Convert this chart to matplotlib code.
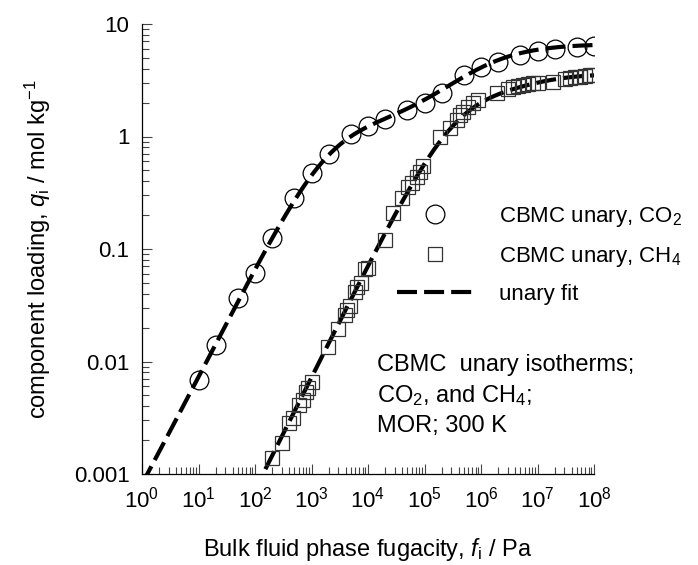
import numpy as np
import matplotlib
matplotlib.use('Agg')
import matplotlib.pyplot as plt
from matplotlib.ticker import LogLocator, NullFormatter, FixedLocator, FixedFormatter

plt.rcParams['font.family'] = ['Liberation Sans', 'DejaVu Sans']
plt.rcParams['mathtext.fontset'] = 'custom'
plt.rcParams['mathtext.rm'] = 'Liberation Sans'
plt.rcParams['mathtext.it'] = 'Liberation Sans:italic'

# ---- data ----
co2_f = [10, 20, 50, 100, 200, 500, 1e3, 2e3, 5e3, 1e4, 2e4, 5e4, 1e5, 2e5,
         5e5, 1e6, 2e6, 5e6, 1e7, 2e7, 5e7, 1e8]
co2_q = [0.0068, 0.014, 0.037, 0.061, 0.125, 0.284, 0.47, 0.70, 1.05, 1.24,
         1.43, 1.72, 1.99, 2.44, 3.5, 4.15, 4.6, 5.3, 5.75, 6.0, 6.25, 6.4]

ch4_f = [197, 297, 400, 476, 601, 698, 800, 879, 1007,
         1985, 2985, 3920, 4300, 4800, 5890, 6470, 7410, 8850, 10100, 20000,
         28000, 39500, 51700, 59300, 72600, 83200, 95300,
         188000, 283000, 371000, 425000, 487000, 597000, 731000, 897000,
         1.9e6, 3.04e6, 3.73e6, 4.57e6, 5.6e6, 6.9e6, 8.4e6, 1.03e7,
         1.9e7, 3.07e7, 3.76e7, 4.6e7, 5.65e7, 6.9e7, 8.5e7, 1.0e8]
ch4_q = [0.00138, 0.00188, 0.00283, 0.00313, 0.0041, 0.00455, 0.0054, 0.00578, 0.0066,
         0.0134, 0.0193, 0.0259, 0.0287, 0.0311, 0.0417, 0.0462, 0.0495, 0.0659, 0.0673, 0.12,
         0.207, 0.282, 0.358, 0.384, 0.44, 0.487, 0.547,
         0.995, 1.18, 1.40, 1.55, 1.66, 1.82, 1.97, 2.11,
         2.42, 2.63, 2.74, 2.81, 2.87, 2.91, 2.97, 3.01,
         3.07, 3.22, 3.29, 3.36, 3.41, 3.45, 3.52, 3.55]

# dual-site Langmuir-Freundlich fit parameters
co2_fit = dict(qA=1.25, bA=5.0e-4, nA=1.0, qB=5.4, bB=1.16e-6, nB=0.75)
ch4_fit = dict(qA=2.6, bA=2.75e-6, nA=1.0, qB=1.0, bB=1.0e-7, nB=1.0)

xticks = [1e0, 1e1, 1e2, 1e3, 1e4, 1e5, 1e6, 1e7, 1e8]
xticklabels = [r'$10^{%d}$' % i for i in range(9)]
yticks = [0.001, 0.01, 0.1, 1, 10]
yticklabels = ['0.001', '0.01', '0.1', '1', '10']


def dslf(f, p):
    a = (p['bA'] * f) ** p['nA']
    b = (p['bB'] * f) ** p['nB']
    return p['qA'] * a / (1 + a) + p['qB'] * b / (1 + b)


fig = plt.figure(figsize=(6.98, 5.65), dpi=100)
ax = fig.add_axes([142 / 698, 1 - 474 / 565, (594 - 142) / 698, (474 - 24) / 565])

fgrid = np.logspace(0, 8, 400)
dash = (4.8, 1.7)
ax.plot(fgrid, dslf(fgrid, co2_fit), color='black', lw=3, dashes=dash, zorder=3)
ax.plot(fgrid, dslf(fgrid, ch4_fit), color='black', lw=3, dashes=dash, zorder=3,
        label='unary fit')

ax.plot(co2_f, co2_q, linestyle='none', marker='o', ms=13.5, mfc='none',
        mec='black', mew=0.9, zorder=4, label='CBMC unary, CO$_2$')
ax.plot(ch4_f, ch4_q, linestyle='none', marker='s', ms=10, mfc='none',
        mec='#333333', mew=0.9, zorder=4, label='CBMC unary, CH$_4$')

ax.set_xscale('log')
ax.set_yscale('log')
ax.set_xlim(1, 1e8)
ax.set_ylim(0.001, 10)

for s in ['top', 'right']:
    ax.spines[s].set_visible(False)
for s in ['left', 'bottom']:
    ax.spines[s].set_linewidth(0.9)

ax.xaxis.set_major_locator(FixedLocator(xticks))
ax.xaxis.set_major_formatter(FixedFormatter(xticklabels))
ax.yaxis.set_major_locator(FixedLocator(yticks))
ax.yaxis.set_major_formatter(FixedFormatter(yticklabels))
ax.xaxis.set_minor_locator(LogLocator(base=10, subs=np.arange(2, 10), numticks=20))
ax.yaxis.set_minor_locator(LogLocator(base=10, subs=np.arange(2, 10), numticks=20))
ax.xaxis.set_minor_formatter(NullFormatter())
ax.yaxis.set_minor_formatter(NullFormatter())

ax.tick_params(which='major', direction='in', length=7, width=0.8, color='#444444',
               labelsize=16, pad=9)
ax.tick_params(which='minor', direction='in', length=5, width=0.8, color='#444444')

ax.set_xlabel(r'Bulk fluid phase fugacity, $\mathit{f}_{\mathrm{i}}$ / Pa', fontsize=17,
              labelpad=17)
ax.set_ylabel(r'component loading, $\mathit{q}_{\mathrm{i}}$ / mol kg$^{-1}$', fontsize=17,
              labelpad=15)

handles, labels = ax.get_legend_handles_labels()
order = [labels.index('CBMC unary, CO$_2$'), labels.index('CBMC unary, CH$_4$'),
         labels.index('unary fit')]
leg = fig.legend([handles[i] for i in order], [labels[i] for i in order],
                 loc='upper left', bbox_to_anchor=(397 / 698, 1 - 205 / 565),
                 frameon=False, fontsize=16, numpoints=1, handlelength=3.4,
                 handletextpad=1.2, labelspacing=0.7, borderpad=0, borderaxespad=0)

fig.text(377 / 698, 1 - 354 / 565,
         'CBMC  unary isotherms;\nCO$_2$, and CH$_4$;\nMOR; 300 K',
         fontsize=17, ha='left', va='top', linespacing=1.38)

fig.savefig('out.png', dpi=100)
